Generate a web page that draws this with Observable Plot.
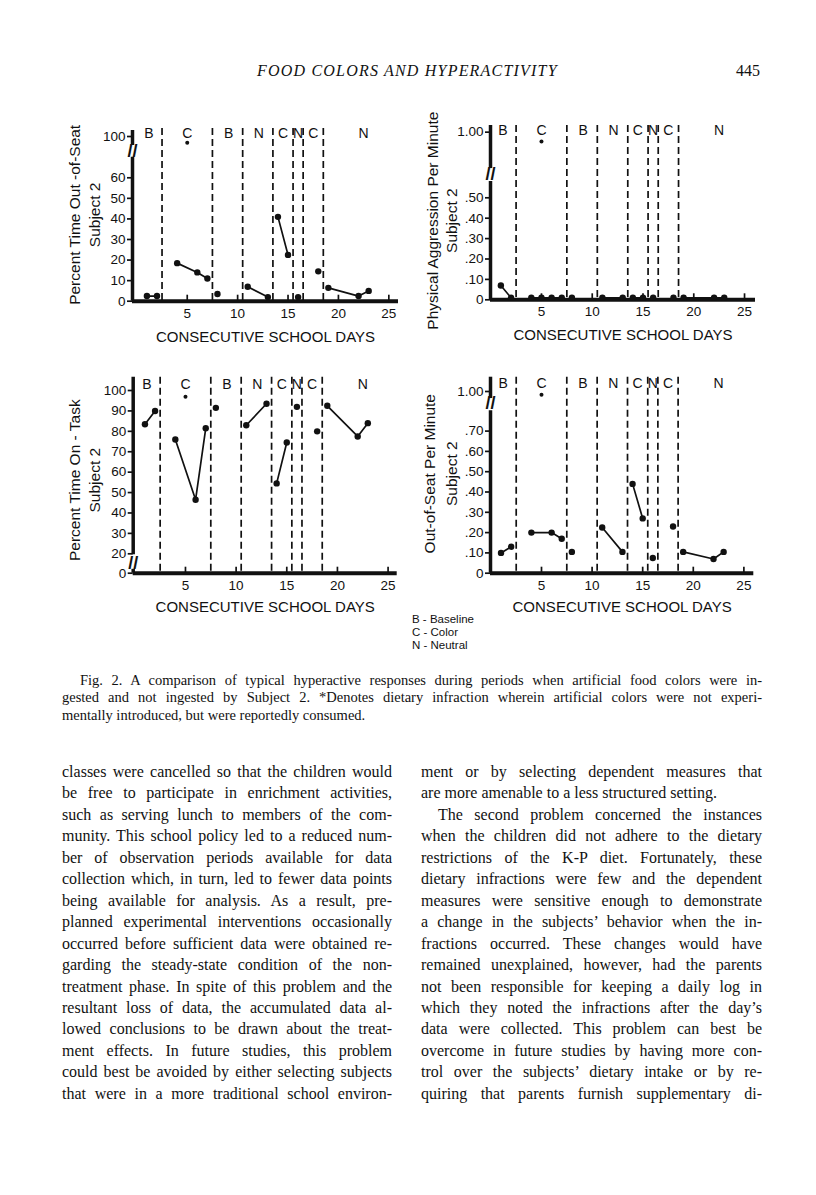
<!DOCTYPE html>
<html><head><meta charset="utf-8">
<script src="https://cdn.jsdelivr.net/npm/d3@7"></script>
<script src="https://cdn.jsdelivr.net/npm/@observablehq/plot@0.6"></script>
<style>
html,body{margin:0;padding:0;background:#fff;}
#page{position:relative;width:816px;height:1195px;overflow:hidden;background:#fff;color:#111;}
.abs{position:absolute;}
.hdr{font-family:"Liberation Serif",serif;font-style:italic;font-size:16px;letter-spacing:1.2px;white-space:nowrap;}
.pnum{font-family:"Liberation Serif",serif;font-size:16px;}
.txt{font-family:"Liberation Serif",serif;}
.txt div{white-space:nowrap;text-align:justify;text-align-last:justify;}
.txt div.last{text-align:left;text-align-last:left;}
.legend{font-family:"Liberation Sans",Arial,sans-serif;font-size:11.5px;line-height:13px;white-space:nowrap;}
svg{overflow:visible;}
</style></head><body><div id="page"></div>
<script>
// ---- data ----
const days = [1, 2, 4, 6, 7, 8, 11, 13, 14, 15, 16, 18, 19, 22, 23];
const segment = [1, 1, 2, 2, 2, 3, 4, 4, 5, 5, 6, 7, 8, 8, 8];
const outOfSeatPercent = [2.5, 2.5, 18.5, 14, 11, 3.5, 7, 2, 41, 22.5, 2, 14.5, 6.5, 2.5, 5];
const onTaskPercent = [83.5, 90, 76, 46.5, 81.5, 91.5, 83, 93.5, 54.5, 74.5, 92, 80, 92.5, 77.5, 84];
const outOfSeatPerMinute = [0.10, 0.13, 0.20, 0.20, 0.17, 0.105, 0.225, 0.105, 0.44, 0.27, 0.075, 0.23, 0.105, 0.07, 0.105];
const aggressionDays = [1, 2, 4, 5, 6, 7, 8, 11, 13, 14, 15, 16, 18, 19, 22, 23];
const aggressionSegment = [1, 1, 2, 2, 2, 2, 3, 4, 4, 5, 5, 6, 7, 8, 8, 8];
const aggressionPerMinute = [0.07, 0.01, 0.01, 0.01, 0.01, 0.01, 0.01, 0.01, 0.01, 0.01, 0.01, 0.01, 0.01, 0.01, 0.01, 0.01];
const infractionDay = 5;
const infractionValues = {outSeatPct: 91, aggression: 0.92, onTask: 97, outSeatMin: 0.965};
const phaseBounds = [2.5, 7.5, 10.5, 13.5, 15.5, 16.5, 18.5];
const phaseLabels = ["B", "C", "B", "N", "C", "N", "C", "N"];
const phaseLabelDays = [1.2, 5, 9.1, 12.1, 14.5, 16, 17.5, 22.5];
const xTicks = [5, 10, 15, 20, 25];
const yTicksPercentOut = [0, 10, 20, 30, 40, 50, 60, 100];
const yTicksAggression = [0, 0.1, 0.2, 0.3, 0.4, 0.5, 1];
const yTicksOnTask = [0, 20, 30, 40, 50, 60, 70, 80, 90, 100];
const yTicksOutMin = [0, 0.1, 0.2, 0.3, 0.4, 0.5, 0.6, 0.7, 1];
const xTitle = "CONSECUTIVE SCHOOL DAYS";
const legendLines = ["B - Baseline", "C - Color", "N - Neutral"];

const fmtRate = d => d === 0 ? "0" : d === 1 ? "1.00" : d3.format(".2f")(d).replace(/^0/, "");
const fmtInt = d => String(Math.round(d));

const ink = "#111";
// broken (two-slope) axis: values below b keep slope kLow, above b slope kHigh
function makeBreak(b, kLow, kHigh) {
  return v => v <= b ? v * kLow : b * kLow + (v - b) * kHigh;
}

function panel(cfg) {
  const brk = makeBreak(cfg.b, cfg.kLow, cfg.kHigh);
  const rows = cfg.days.map((d, i) => ({day: d, value: cfg.values[i], seg: cfg.segs[i]}));
  const xmin = cfg.xDomain[0];
  const tickLabel = new Map(cfg.yTicks.map(t => [brk(t), cfg.fmt(t)]));
  return Plot.plot({
    width: cfg.W, height: cfg.H,
    marginLeft: cfg.ml, marginRight: cfg.mr, marginTop: cfg.mt, marginBottom: cfg.mb,
    style: {fontFamily: '"Liberation Sans", Arial, sans-serif', fontSize: "13px", color: ink, background: "transparent", overflow: "visible"},
    x: {domain: cfg.xDomain},
    y: {domain: [0, cfg.yTop]},
    marks: [
      Plot.ruleX(phaseBounds, {stroke: ink, strokeWidth: 1.7, strokeDasharray: "7,4"}),
      Plot.text(phaseLabels, {x: (d, i) => phaseLabelDays[i], text: d => d, frameAnchor: "top", lineAnchor: "top", dy: cfg.labelDy, fontSize: 14, fill: ink}),
      Plot.ruleX(cfg.axisSegments, {x: () => xmin, y1: d => brk(d[0]), y2: d => brk(d[1]), stroke: ink, strokeWidth: 3.5}),
      Plot.text([cfg.breakAt], {x: () => xmin, y: d => brk(d), text: () => "//", fontSize: 18, fontWeight: "bold", fill: ink}),
      Plot.ruleY([0], {stroke: ink, strokeWidth: 4}),
      Plot.axisY({ticks: cfg.yTicks.map(brk), tickFormat: d => tickLabel.get(d), tickSize: 5, tickPadding: 2, label: null, fontSize: 13.5, strokeWidth: 1.7}),
      Plot.axisX({ticks: xTicks, tickSize: -6, tickPadding: 13, label: null, fontSize: 13.5, strokeWidth: 1.7}),
      Plot.line(rows, {x: "day", y: d => brk(d.value), z: "seg", stroke: ink, strokeWidth: 1.7}),
      Plot.dot(rows, {x: "day", y: d => brk(d.value), r: 3.2, fill: ink}),
      Plot.dot([cfg.infraction], {x: () => infractionDay, y: d => brk(d), r: 2, fill: ink}),
      Plot.text([cfg.title1], {text: d => d, frameAnchor: "left", textAnchor: "middle", rotate: -90, dx: cfg.t1dx, dy: cfg.tdy, fontSize: 15.5, fill: ink}),
      Plot.text(["Subject 2"], {text: d => d, frameAnchor: "left", textAnchor: "middle", rotate: -90, dx: cfg.t2dx, dy: cfg.tdy, fontSize: 15.5, fill: ink}),
      Plot.text([xTitle], {text: d => d, frameAnchor: "bottom", lineAnchor: "middle", dy: cfg.xtdy, fontSize: 15, fill: ink})
    ]
  });
}

const panels = [
  {L: 40, T: 110, W: 370, H: 240, ml: 92, mr: 12, mt: 18, mb: 49.3,
   xDomain: [-0.43, 25.96], b: 70, kLow: 1, kHigh: 0.3355, yTop: 83.96,
   days: days, values: outOfSeatPercent, segs: segment, infraction: infractionValues.outSeatPct,
   axisSegments: [[0, 70], [87, 108.7]], breakAt: 78.5, yTicks: yTicksPercentOut, fmt: fmtInt,
   title1: "Percent Time Out -of-Seat", t1dx: -57, t2dx: -37, tdy: 0, xtdy: 35.7, labelDy: 0},
  {L: 400, T: 80, W: 370, H: 270, ml: 90, mr: 15, mt: 45, mb: 50.7,
   xDomain: [-0.02, 26.08], b: 0.58, kLow: 1, kHigh: 0.5755, yTop: 0.8544,
   days: aggressionDays, values: aggressionPerMinute, segs: aggressionSegment, infraction: infractionValues.aggression,
   axisSegments: [[0, 0.58], [0.69, 1.057]], breakAt: 0.64, yTicks: yTicksAggression, fmt: fmtRate,
   title1: "Physical Aggression Per Minute", t1dx: -57, t2dx: -38, tdy: 8, xtdy: 35.7, labelDy: 0},
  {L: 40, T: 360, W: 370, H: 260, ml: 92.7, mr: 13.3, mt: 16.7, mb: 47.3,
   xDomain: [-0.16, 25.9], b: 20, kLow: 0.4753, kHigh: 1, yTop: 96.03,
   days: days, values: onTaskPercent, segs: segment, infraction: infractionValues.onTask,
   axisSegments: [[0, 4], [19, 106.5]], breakAt: 10.5, yTicks: yTicksOnTask, fmt: fmtInt,
   title1: "Percent Time On - Task", t1dx: -57.7, t2dx: -37.7, tdy: 5, xtdy: 34, labelDy: 2},
  {L: 400, T: 360, W: 370, H: 260, ml: 90, mr: 16.7, mt: 16.7, mb: 47.3,
   xDomain: [-0.04, 25.98], b: 0.8, kLow: 1, kHigh: 0.4754, yTop: 0.9655,
   days: days, values: outOfSeatPerMinute, segs: segment, infraction: infractionValues.outSeatMin,
   axisSegments: [[0, 0.8], [0.927, 1.148]], breakAt: 0.875, yTicks: yTicksOutMin, fmt: fmtRate,
   title1: "Out-of-Seat Per Minute", t1dx: -60, t2dx: -38.3, tdy: -1.5, xtdy: 34, labelDy: 1}
];

const page = document.getElementById("page");
function addDiv(cls, left, top, html, extra) {
  const d = document.createElement("div");
  d.className = "abs " + (cls || "");
  d.style.left = left + "px"; d.style.top = top + "px";
  if (extra) Object.assign(d.style, extra);
  d.innerHTML = html;
  page.appendChild(d);
  return d;
}

addDiv("hdr", 257, 62, "FOOD COLORS AND HYPERACTIVITY");
addDiv("pnum", 736, 62, "445");

for (const cfg of panels) {
  const svg = panel(cfg);
  const holder = addDiv("", cfg.L, cfg.T, "");
  holder.appendChild(svg);
}

addDiv("legend", 412, 613, legendLines.join("<br>"));

const captionLines = [
  "Fig. 2. A comparison of typical hyperactive responses during periods when artificial food colors were in-",
  "gested and not ingested by Subject 2. *Denotes dietary infraction wherein artificial colors were not experi-",
  "mentally introduced, but were reportedly consumed."
];
const leftLines = [
  "classes were cancelled so that the children would",
  "be free to participate in enrichment activities,",
  "such as serving lunch to members of the com-",
  "munity. This school policy led to a reduced num-",
  "ber of observation periods available for data",
  "collection which, in turn, led to fewer data points",
  "being available for analysis. As a result, pre-",
  "planned experimental interventions occasionally",
  "occurred before sufficient data were obtained re-",
  "garding the steady-state condition of the non-",
  "treatment phase. In spite of this problem and the",
  "resultant loss of data, the accumulated data al-",
  "lowed conclusions to be drawn about the treat-",
  "ment effects. In future studies, this problem",
  "could best be avoided by either selecting subjects",
  "that were in a more traditional school environ-"
];
const rightLines = [
  "ment or by selecting dependent measures that",
  "are more amenable to a less structured setting.",
  "The second problem concerned the instances",
  "when the children did not adhere to the dietary",
  "restrictions of the K-P diet. Fortunately, these",
  "dietary infractions were few and the dependent",
  "measures were sensitive enough to demonstrate",
  "a change in the subjects\u2019 behavior when the in-",
  "fractions occurred. These changes would have",
  "remained unexplained, however, had the parents",
  "not been responsible for keeping a daily log in",
  "which they noted the infractions after the day\u2019s",
  "data were collected. This problem can best be",
  "overcome in future studies by having more con-",
  "trol over the subjects\u2019 dietary intake or by re-",
  "quiring that parents furnish supplementary di-"
];

function block(lines, left, top, width, fontSize, lineHeight, opts) {
  const c = addDiv("txt", left, top, "", {width: width + "px", fontSize: fontSize + "px", lineHeight: lineHeight + "px"});
  lines.forEach((t, i) => {
    const d = document.createElement("div");
    d.textContent = t;
    if (opts.last.includes(i)) d.className = "last";
    if (opts.indent.includes(i)) d.style.paddingLeft = opts.indentPx + "px";
    c.appendChild(d);
  });
}
block(captionLines, 62, 672, 700, 14.5, 17.3, {last: [2], indent: [0], indentPx: 18});
block(leftLines, 62, 761, 330, 16, 21.45, {last: [], indent: [], indentPx: 0});
block(rightLines, 421, 761, 341, 16, 21.45, {last: [1], indent: [2], indentPx: 17});
</script>
</body></html>
